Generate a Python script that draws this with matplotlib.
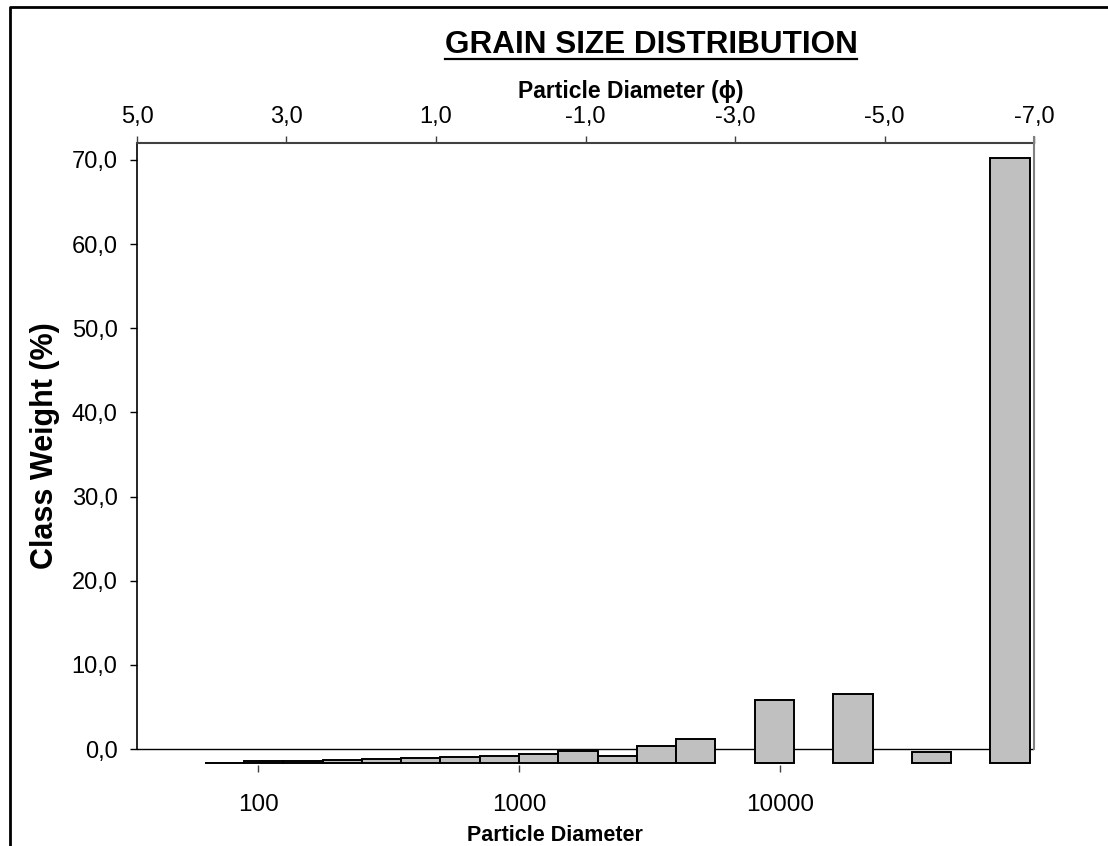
import matplotlib
matplotlib.use("Agg")
import matplotlib.pyplot as plt
from matplotlib.lines import Line2D
from matplotlib.ticker import FixedLocator, FixedFormatter

plt.rcParams['font.family'] = ['Liberation Sans', 'DejaVu Sans']

# Sieve classes (lower / upper diameter of each class, micrometres)
bin_lo = [62.5, 88.4, 125, 176.8, 250, 353.6, 500, 707.1, 1000, 1414, 2000,
          2828, 4000, 8000, 16000, 32000, 64000]
bin_hi = [88.4, 125, 176.8, 250, 353.6, 500, 707.1, 1000, 1414, 2000, 2828,
          4000, 5657, 11314, 22627, 45255, 90510]
# Plotted class weight (%) for each class
class_weight = [-1.63, -1.46, -1.39, -1.27, -1.23, -1.11, -0.99, -0.83, -0.59,
                -0.27, -0.80, 0.32, 1.15, 5.82, 6.50, -0.32, 70.24]
bar_base = -1.70

y_ticks = [0, 10, 20, 30, 40, 50, 60, 70]
y_labels = ["0,0", "10,0", "20,0", "30,0", "40,0", "50,0", "60,0", "70,0"]
phi_ticks = [5, 3, 1, -1, -3, -5, -7]
phi_labels = ["5,0", "3,0", "1,0", "-1,0", "-3,0", "-5,0", "-7,0"]
d_ticks = [100, 1000, 10000, 100000]
d_labels = ["100", "1000", "10000", "10000"]

W, H = 1108, 846
fig = plt.figure(figsize=(W / 100, H / 100), dpi=100)
fig.patch.set_facecolor("white")


def fx(px):
    return px / W


def fy(py):
    return 1 - py / H


ax_l, ax_r, ax_t, ax_b = 137, 1034, 143, 765
ax = fig.add_axes([fx(ax_l), fy(ax_b), fx(ax_r - ax_l), (ax_b - ax_t) / H])
ax.set_facecolor("none")

# Histogram bars on the log diameter scale
for lo, hi, w in zip(bin_lo, bin_hi, class_weight):
    ax.bar(lo, w - bar_base, width=hi - lo, bottom=bar_base, align="edge",
           facecolor="#C0C0C0", edgecolor="black", linewidth=1.4, zorder=3)

ax.set_xscale("log")
ax.set_xlim(10 ** 1.5364, 10 ** 4.973)
ax.set_ylim(-1.9, 72.0)

# zero line
ax.axhline(0, color="black", linewidth=1.0, zorder=2)

for s in ["top", "bottom"]:
    ax.spines[s].set_visible(False)
ax.spines["left"].set_bounds(0, 72.0)
ax.spines["left"].set_color("black")
ax.spines["left"].set_linewidth(1.2)
ax.spines["right"].set_bounds(0, 72.0)
ax.spines["right"].set_color("#808080")
ax.spines["right"].set_linewidth(1.5)

ax.yaxis.set_major_locator(FixedLocator(y_ticks))
ax.yaxis.set_major_formatter(FixedFormatter(y_labels))
ax.tick_params(axis="y", direction="out", length=5, width=1.0, pad=9,
               labelsize=17, colors="black")
ax.tick_params(axis="y", which="minor", left=False)

ax.xaxis.set_major_locator(FixedLocator(d_ticks))
ax.xaxis.set_major_formatter(FixedFormatter(d_labels))
ax.xaxis.set_minor_locator(FixedLocator([]))
ax.tick_params(axis="x", direction="out", length=5, width=1.0, pad=16,
               labelsize=17.5, color="#404040", labelcolor="black")

# phi scale on top
axt = ax.twiny()
axt.set_xlim(5, -7)
axt.xaxis.set_major_locator(FixedLocator(phi_ticks))
axt.xaxis.set_major_formatter(FixedFormatter(phi_labels))
for s in ["left", "right", "bottom"]:
    axt.spines[s].set_visible(False)
axt.spines["top"].set_color("#404040")
axt.spines["top"].set_linewidth(1.5)
axt.tick_params(axis="x", direction="out", length=5, width=1.0, pad=6,
                labelsize=17, color="#404040", labelcolor="black")

# right edge line runs slightly above the plot top
fig.add_artist(Line2D([fx(ax_r), fx(ax_r)], [fy(ax_t - 6), fy(ax_t)],
                      color="#808080", linewidth=1.5))

# titles
title = fig.text(fx(651), fy(53), "GRAIN SIZE DISTRIBUTION", ha="center",
                 va="baseline", fontsize=22.7, fontweight="bold")
fig.text(fx(631), fy(98), "Particle Diameter (\u03d5)", ha="center",
         va="baseline", fontsize=16.5, fontweight="bold")
fig.text(fx(555), fy(841), "Particle Diameter", ha="center",
         va="baseline", fontsize=15.5, fontweight="bold")
fig.text(fx(45), fy(446), "Class Weight (%)", ha="center", va="center",
         rotation=90, fontsize=22, fontweight="bold")

# underline the chart title across its drawn width
fig.canvas.draw()
bb = title.get_window_extent()
fig.add_artist(Line2D([bb.x0 / W, bb.x1 / W], [fy(59.5), fy(59.5)],
                      color="black", linewidth=1.6))

# outer chart frame
fig.add_artist(Line2D([fx(9.5), fx(9.5), fx(W + 5)],
                      [fy(H + 5), fy(7.5), fy(7.5)],
                      color="black", linewidth=2.0))

fig.savefig("out.png", dpi=100, facecolor="white")
